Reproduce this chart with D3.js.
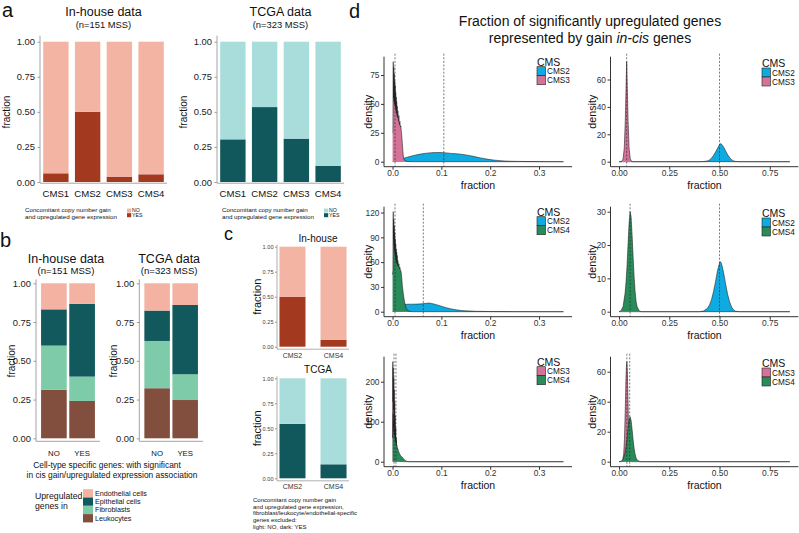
<!DOCTYPE html>
<html><head><meta charset="utf-8">
<script src="https://cdn.jsdelivr.net/npm/d3@7"></script>
<style>
body{margin:0;background:#fff;}
svg{font-family:"Liberation Sans",Arial,Helvetica,sans-serif;}
</style></head><body>
<svg id="c" width="799" height="533"></svg>
<script>
// ---------------- DATA ----------------
const cmsCats = ["CMS1","CMS2","CMS3","CMS4"];
const inhouseYes = [0.062,0.50,0.038,0.055];
const tcgaYes = [0.304,0.534,0.309,0.116];
const fracTicks = [0,0.25,0.5,0.75,1];

const bGroups = ["NO","YES"];
const cellTypes = ["Leukocytes","Fibroblasts","Epithelial cells","Endothelial cells"]; // bottom -> top
const legendCellTypes = ["Endothelial cells","Epithelial cells","Fibroblasts","Leukocytes"];
const bInhouseNO  = [0.313,0.285,0.234,0.168];
const bInhouseYES = [0.241,0.157,0.469,0.133];
const bTcgaNO     = [0.323,0.305,0.196,0.176];
const bTcgaYES    = [0.247,0.166,0.447,0.140];

const cCats = ["CMS2","CMS4"];
const cInhouseYes = [0.50,0.07];
const cTcgaYes = [0.545,0.14];

const TL_CMS2 = [[0,0],[0.005,0.3],[0.01,0.9],[0.015,1.7],[0.02,2.6],[0.03,3.9],[0.04,5.0],[0.05,6.0],[0.06,6.8],[0.07,7.4],[0.08,7.8],[0.09,8.0],[0.1,7.9],[0.11,7.6],[0.12,7.2],[0.13,6.9],[0.14,6.5],[0.15,5.9],[0.16,5.1],[0.17,4.2],[0.18,3.3],[0.19,2.5],[0.2,1.8],[0.21,1.3],[0.22,0.9],[0.23,0.6],[0.24,0.4],[0.26,0.25],[0.28,0.15],[0.3,0.08],[0.32,0.04],[0.35,0]];
const TL_CMS3 = [[0,25],[0.0008,26],[0.001,60],[0.0015,86.5],[0.002,55],[0.0025,82],[0.003,52],[0.0035,76],[0.004,50],[0.0045,70],[0.005,48],[0.0055,66],[0.006,46],[0.0065,60],[0.007,44],[0.0075,56],[0.008,42],[0.0085,52],[0.009,40],[0.0095,48],[0.01,38],[0.011,44],[0.012,35],[0.013,40],[0.014,32],[0.015,35],[0.016,30],[0.017,31],[0.018,26],[0.019,22],[0.02,16],[0.021,10],[0.022,5],[0.023,2.5],[0.025,1],[0.03,0.2],[0.04,0],[0.35,0]];
const TR_CMS2 = [[0,0],[0.4,0],[0.42,0.1],[0.44,0.6],[0.45,1.3],[0.46,2.6],[0.47,4.5],[0.48,7],[0.49,9.8],[0.5,12.3],[0.505,13.2],[0.51,12.8],[0.52,10.8],[0.53,8],[0.54,5.2],[0.55,3],[0.56,1.5],[0.57,0.6],[0.58,0.2],[0.6,0],[0.85,0]];
const TR_CMS3 = [[0,0],[0.012,0],[0.02,2],[0.026,10],[0.031,30],[0.035,55],[0.038,73],[0.041,55],[0.045,30],[0.05,10],[0.056,2],[0.064,0],[0.85,0]];
const ML_CMS2 = [[0,0],[0.005,2],[0.01,5],[0.015,7.5],[0.02,8.6],[0.03,9],[0.04,9.1],[0.05,9.2],[0.06,9.5],[0.07,10.2],[0.075,10.4],[0.08,10],[0.09,8.5],[0.1,6.6],[0.11,4.8],[0.12,3.4],[0.13,2.3],[0.14,1.5],[0.15,1],[0.17,0.5],[0.2,0.2],[0.25,0.07],[0.3,0.02],[0.35,0]];
const ML_CMS4 = [[0,45],[0.0008,50],[0.001,100],[0.0015,121],[0.002,88],[0.0025,112],[0.003,80],[0.0035,104],[0.004,74],[0.0045,96],[0.005,70],[0.0055,88],[0.006,66],[0.0065,82],[0.007,62],[0.0075,76],[0.008,60],[0.0085,72],[0.009,58],[0.0095,68],[0.01,56],[0.011,62],[0.012,54],[0.013,58],[0.014,52],[0.015,54],[0.016,50],[0.017,50],[0.018,46],[0.019,40],[0.02,32],[0.022,22],[0.024,14],[0.026,8],[0.028,4],[0.031,1.5],[0.035,0.4],[0.04,0],[0.35,0]];
const MR_CMS2 = [[0,0],[0.4,0],[0.42,0.2],[0.44,1],[0.45,2],[0.46,3.6],[0.47,6],[0.48,9],[0.49,12.3],[0.5,14.6],[0.505,15],[0.51,14.4],[0.52,11.8],[0.53,8.4],[0.54,5.3],[0.55,3],[0.56,1.4],[0.57,0.5],[0.58,0.15],[0.6,0],[0.85,0]];
const MR_CMS4 = [[0,0],[0.01,0.3],[0.02,1.5],[0.03,5.5],[0.035,9],[0.04,14],[0.045,20.5],[0.05,26.5],[0.055,30],[0.06,28.5],[0.065,23],[0.07,16.5],[0.075,10.5],[0.08,6],[0.085,3],[0.09,1.5],[0.1,0.3],[0.11,0],[0.85,0]];
const BL_CMS3 = [[0,60],[0.0005,250],[0.001,150],[0.0015,235],[0.002,130],[0.0025,210],[0.003,110],[0.0035,180],[0.004,90],[0.0045,150],[0.005,70],[0.0055,115],[0.006,55],[0.0065,85],[0.007,40],[0.0075,60],[0.008,28],[0.009,30],[0.01,15],[0.011,12],[0.012,6],[0.014,3],[0.016,1],[0.02,0.3],[0.025,0],[0.35,0]];
const BL_CMS4 = [[0,60],[0.0008,70],[0.001,100],[0.0015,120],[0.002,85],[0.0025,105],[0.003,75],[0.0035,92],[0.004,66],[0.0045,80],[0.005,58],[0.0055,70],[0.006,52],[0.0065,60],[0.007,46],[0.0075,52],[0.008,40],[0.009,42],[0.01,32],[0.011,33],[0.012,26],[0.013,25],[0.014,20],[0.015,19],[0.016,16],[0.018,13],[0.02,11],[0.022,8],[0.024,5],[0.026,3],[0.028,1.5],[0.031,0.6],[0.035,0.1],[0.04,0],[0.35,0]];
const BR_CMS3 = [[0,0],[0.012,0],[0.018,1],[0.023,5],[0.027,15],[0.031,35],[0.034,54],[0.037,64],[0.039,66.7],[0.041,62],[0.044,45],[0.047,25],[0.05,11],[0.054,3],[0.058,0.6],[0.063,0],[0.85,0]];
const BR_CMS4 = [[0,0],[0.01,0.3],[0.02,1.5],[0.03,6],[0.035,10],[0.04,16],[0.045,22.5],[0.05,27.8],[0.055,30],[0.06,27.5],[0.065,21.5],[0.07,14.5],[0.075,9],[0.08,5],[0.085,2.5],[0.09,1.2],[0.1,0.3],[0.11,0],[0.85,0]];

const medTL = [0.005,0.105], medTR = [0.038,0.5];
const medML = [0.005,0.063], medMR = [0.055,0.5];
const medBL = [0.003,0.007], medBR = [0.039,0.053];
const ticksTL = [0,25,50,75], ticksTR = [0,20,40,60];
const ticksML = [0,30,60,90,120], ticksMR = [0,10,20,30];
const ticksBL = [0,100,200], ticksBR = [0,20,40,60];
const xTicksLeft = [0,0.1,0.2,0.3], xTicksRight = [0,0.25,0.5,0.75];

// ---------------- STYLE ----------------
const COL = {
  ihNO:"#F4B4A4", ihYES:"#A3391F", tcNO:"#A9DDDC", tcYES:"#10585C",
  "Endothelial cells":"#F3B2A2", "Epithelial cells":"#11595D", "Fibroblasts":"#7DCBA8", "Leukocytes":"#824F3E",
  CMS2:"#0FAAE0", CMS3:"#D5729A", CMS4:"#2A8B5A"
};
const svg = d3.select("#c");
const FONT = "'Liberation Sans', Arial, Helvetica, sans-serif";

function txt(g,x,y,s,size,o={}){
  const t=g.append("text").attr("x",x).attr("y",y).attr("font-size",size)
    .attr("fill",o.fill||"#111").attr("text-anchor",o.anchor||"middle").text(s);
  if(o.rotate) t.attr("transform",`rotate(-90,${x},${y})`);
  if(o.weight) t.attr("font-weight",o.weight);
  return t;
}
function styleAxis(sel,fs,lc,tc){
  sel.select(".domain").remove();
  sel.selectAll("text").attr("font-size",fs).attr("font-family",FONT).attr("fill",tc);
  sel.selectAll("line").attr("stroke",lc);
}

// stacked fraction bars
function fracBars(o){
  const g=svg.append("g");
  const x=d3.scaleBand().domain(o.cats).range(o.xr).paddingInner(o.pi).paddingOuter(o.po);
  const y=d3.scaleLinear().domain([0,1]).range(o.yr);
  o.cats.forEach((c,i)=>{
    let acc=0;
    o.segs[i].forEach((v,j)=>{
      g.append("rect").attr("x",x(c)).attr("width",x.bandwidth())
        .attr("y",y(acc+v)).attr("height",y(acc)-y(acc+v)).attr("fill",o.colors[j]);
      acc+=v;
    });
  });
  const ax=g.append("g").attr("transform",`translate(${o.xr[0]},0)`)
    .call(d3.axisLeft(y).tickValues(fracTicks).tickFormat(d3.format(".2f")).tickSize(o.tick).tickPadding(o.pad));
  styleAxis(ax,o.tfs,o.axc,o.tc||"#222");
  const yb=o.yr[0]+o.gapB;
  g.append("line").attr("x1",o.xr[0]).attr("x2",o.xr[0]).attr("y1",o.yr[1]-o.gapT).attr("y2",yb).attr("stroke",o.axc).attr("stroke-width",o.aw);
  g.append("line").attr("x1",o.xr[0]).attr("x2",o.xr[1]).attr("y1",yb).attr("y2",yb).attr("stroke",o.axc).attr("stroke-width",o.aw);
  o.cats.forEach(c=>txt(g,x(c)+x.bandwidth()/2,o.catY,c,o.cfs,{fill:o.cc||"#111"}));
  return {g,x,y};
}

// ---------------- PANEL a ----------------
txt(svg,2,17,"a",20,{anchor:"start"});
function panelA(xr,yesVals,noC,yesC,title,sub,fracX,legX){
  const segs=yesVals.map(v=>[v,1-v]);
  fracBars({cats:cmsCats,segs,colors:[yesC,noC],xr,yr:[182,41.7],pi:0.2,po:0.1,
    tick:2.5,pad:2.5,tfs:9.4,axc:"#9a9a9a",aw:0.9,gapB:1.2,gapT:6,catY:196.5,cfs:9.6});
  const cx=(xr[0]+xr[1])/2;
  txt(svg,cx,16,title,12.5);
  txt(svg,cx,27.5,sub,9.4);
  txt(svg,fracX,112,"fraction",10,{rotate:true});
  txt(svg,legX,212,"Concomitant copy number gain",6.2,{anchor:"start"});
  txt(svg,legX,218.8,"and upregulated gene expression",6.2,{anchor:"start"});
  const kx=legX+102;
  svg.append("rect").attr("x",kx).attr("y",208.6).attr("width",4.2).attr("height",4).attr("fill",noC);
  svg.append("rect").attr("x",kx).attr("y",213.2).attr("width",4.2).attr("height",4).attr("fill",yesC);
  txt(svg,kx+5,212.2,"NO",5.2,{anchor:"start"});
  txt(svg,kx+5,216.9,"YES",5.2,{anchor:"start"});
}
panelA([40,167],inhouseYes,COL.ihNO,COL.ihYES,"In-house data","(n=151 MSS)",10,25);
panelA([217,344],tcgaYes,COL.tcNO,COL.tcYES,"TCGA data","(n=323 MSS)",187,222);

// ---------------- PANEL b ----------------
txt(svg,0,247,"b",20,{anchor:"start"});
const bColors=cellTypes.map(c=>COL[c]);
function panelB(xr,no,yes,title,sub,fracX){
  fracBars({cats:bGroups,segs:[no,yes],colors:bColors,xr,yr:[438.3,283.3],pi:0.09,po:0.18,
    tick:2.5,pad:2.5,tfs:9.4,axc:"#9a9a9a",aw:0.9,gapB:3,gapT:4,catY:456,cfs:7.8});
  const cx=(xr[0]+xr[1]-4)/2;
  txt(svg,cx,262.5,title,12.5);
  txt(svg,cx,273.8,sub,9.6);
  txt(svg,fracX,361,"fraction",10,{rotate:true});
}
panelB([36,100],bInhouseNO,bInhouseYES,"In-house data","(n=151 MSS)",14.5);
panelB([139.3,203],bTcgaNO,bTcgaYES,"TCGA data","(n=323 MSS)",117);
txt(svg,107,467.5,"Cell-type specific genes: with significant",8.4);
txt(svg,112,477.5,"in cis gain/upregulated expression association",8.4);
txt(svg,35,499,"Upregulated",8.7,{anchor:"start"});
txt(svg,35,509,"genes in",8.7,{anchor:"start"});
legendCellTypes.forEach((c,i)=>{
  svg.append("rect").attr("x",83).attr("y",489.2+i*8.3).attr("width",10).attr("height",8.3).attr("fill",COL[c]);
  txt(svg,95,495.8+i*8.3,c,7.2,{anchor:"start"});
});

// ---------------- PANEL c ----------------
txt(svg,224,240,"c",18,{anchor:"start"});
function panelC(yTop,yesVals,noC,yesC,title){
  const segs=yesVals.map(v=>[v,1-v]);
  fracBars({cats:cCats,segs,colors:[yesC,noC],xr:[277,349],pi:0.366,po:0.06,yr:[yTop+100,yTop],
    tick:2,pad:1.5,tfs:5.6,axc:"#9a9a9a",aw:0.8,gapB:2.5,gapT:2,catY:yTop+111,cfs:7,cc:"#333",tc:"#444"});
  txt(svg,318,yTop-5,title,10);
  txt(svg,261,yTop+50,"fraction",11,{rotate:true});
}
panelC(246.7,cInhouseYes,COL.ihNO,COL.ihYES,"In-house");
panelC(378.3,cTcgaYes,COL.tcNO,COL.tcYES,"TCGA");
["Concomitant copy number gain","and upregulated gene expression,","fibroblast/leukocyte/endothelial-specific","genes excluded:","light: NO, dark: YES"]
  .forEach((s,i)=>txt(svg,253,502+i*6.7,s,6,{anchor:"start"}));

// ---------------- PANEL d ----------------
txt(svg,349,18,"d",20,{anchor:"start"});
svg.append("text").attr("x",590).attr("y",26).attr("font-size",14).attr("text-anchor","middle").attr("fill","#111")
  .text("Fraction of significantly upregulated genes");
const dt2=svg.append("text").attr("x",590).attr("y",43).attr("font-size",14).attr("text-anchor","middle").attr("fill","#111");
dt2.append("tspan").text("represented by gain ");
dt2.append("tspan").attr("font-style","italic").text("in-cis");
dt2.append("tspan").text(" genes");

const dPanels=[
  {row:0,col:0,series:[["CMS2",TL_CMS2],["CMS3",TL_CMS3]],med:medTL,yt:ticksTL},
  {row:0,col:1,series:[["CMS2",TR_CMS2],["CMS3",TR_CMS3]],med:medTR,yt:ticksTR},
  {row:1,col:0,series:[["CMS2",ML_CMS2],["CMS4",ML_CMS4]],med:medML,yt:ticksML},
  {row:1,col:1,series:[["CMS2",MR_CMS2],["CMS4",MR_CMS4]],med:medMR,yt:ticksMR},
  {row:2,col:0,series:[["CMS3",BL_CMS3],["CMS4",BL_CMS4]],med:medBL,yt:ticksBL},
  {row:2,col:1,series:[["CMS3",BR_CMS3],["CMS4",BR_CMS4]],med:medBR,yt:ticksBR}
];
dPanels.forEach(p=>{
  const left=p.col===0;
  const xr=left?[384,572]:[610.5,798.4];
  const xd=left?[-0.0175,0.3675]:[-0.0425,0.8925];
  const top=56.7+150*p.row, bot=166.7+150*p.row;
  const x=d3.scaleLinear().domain(xd).range(xr);
  const ymax=d3.max(p.series,s=>d3.max(s[1],d=>d[1]));
  const y=d3.scaleLinear().domain([-0.05*ymax,1.05*ymax]).range([bot,top]);
  const g=svg.append("g");
  const area=d3.area().x(d=>x(d[0])).y0(y(0)).y1(d=>y(d[1]));
  const line=d3.line().x(d=>x(d[0])).y(d=>y(d[1]));
  p.series.forEach(([name,pts])=>{
    g.append("path").datum(pts).attr("d",area).attr("fill",COL[name]);
    g.append("path").datum(pts).attr("d",line).attr("fill","none").attr("stroke","#1a1a1a").attr("stroke-width",0.55);
  });
  p.med.forEach(m=>g.append("line").attr("x1",x(m)).attr("x2",x(m)).attr("y1",top-3).attr("y2",bot)
    .attr("stroke","#222").attr("stroke-width",0.6).attr("stroke-dasharray","2,1.6"));
  const ax=g.append("g").attr("transform",`translate(${xr[0]},0)`).call(d3.axisLeft(y).tickValues(p.yt).tickSize(3).tickPadding(1.5));
  styleAxis(ax,8.4,"#333","#333");
  const bx=g.append("g").attr("transform",`translate(0,${bot})`)
    .call(d3.axisBottom(x).tickValues(left?xTicksLeft:xTicksRight).tickFormat(d3.format(left?".1f":".2f")).tickSize(3).tickPadding(0.5));
  styleAxis(bx,8.4,"#333","#333");
  g.append("line").attr("x1",xr[0]).attr("x2",xr[0]).attr("y1",top).attr("y2",bot).attr("stroke","#333").attr("stroke-width",1);
  g.append("line").attr("x1",xr[0]).attr("x2",xr[1]).attr("y1",bot).attr("y2",bot).attr("stroke","#333").attr("stroke-width",1);
  txt(g,left?372:596,(top+bot)/2,"density",10.7,{rotate:true});
  txt(g,(xr[0]+xr[1])/2,bot+22.5,"fraction",10.5);
  // legend
  const lx=left?537:762, ly=(left?61.7:63)+150*p.row;
  txt(g,lx,ly+3.8,"CMS",10.5,{anchor:"start"});
  p.series.forEach(([name],i)=>{
    g.append("rect").attr("x",lx).attr("y",ly+5+i*9).attr("width",8.5).attr("height",9).attr("fill",COL[name]).attr("stroke","#222").attr("stroke-width",0.6);
    txt(g,lx+10,ly+12.6+i*9,name,8.2,{anchor:"start"});
  });
});
</script>
</body></html>
